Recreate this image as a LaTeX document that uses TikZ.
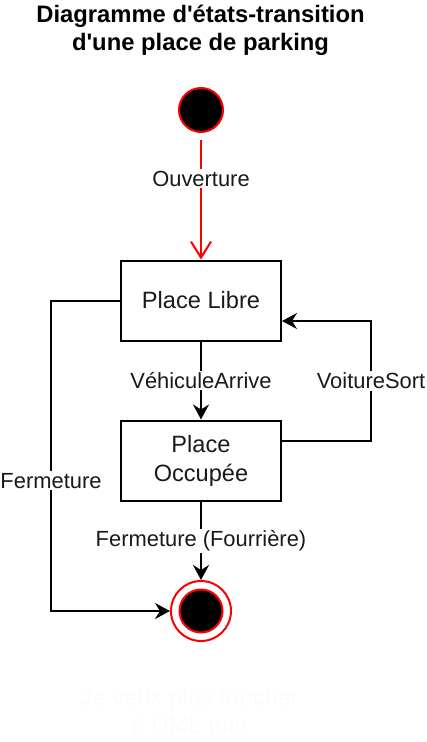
\documentclass[tikz,border=0pt]{standalone}
\usepackage{fontspec}
\setmainfont{Liberation Sans}
\usetikzlibrary{arrows.meta}
\definecolor{ink}{HTML}{1A1A1A}
\definecolor{ghost}{HTML}{FBFBFB}
\tikzset{
  statebox/.style={draw=black, line width=2pt, fill=white, minimum width=160pt, minimum height=80pt, inner sep=2pt, align=center, text=ink, font=\fontsize{23.6}{29}\selectfont},
  lbl/.style={fill=white, text=ink, inner sep=1.5pt, font=\fontsize{21.9}{26}\selectfont},
  flow/.style={line width=2pt, draw=black, -{Stealth[length=15pt, width=16pt, inset=5pt]}},
  openflow/.style={line width=2pt, draw=red, -{Straight Barb[length=16pt, width=20pt]}},
  titletext/.style={anchor=base, text=black, font=\fontsize{23.8}{28}\selectfont\bfseries},
  ghosttext/.style={anchor=base, text=ghost, font=\fontsize{23.8}{28}\selectfont},
}
\begin{document}
\begin{tikzpicture}[x=1pt, y=-1pt]
\useasboundingbox (0,0) rectangle (426,742);
% title
\node[titletext] (t1) at (200.5,22) {Diagramme d\textquotesingle états-transition};
\node[titletext] (t2) at (200.5,50) {d\textquotesingle une place de parking};
% states
\node[circle, draw=red, line width=2pt, fill=black, minimum size=44pt, inner sep=0pt] (init) at (201,110) {};
\node[statebox] (libre) at (201,300.5) {Place Libre};
\node[statebox] (occ) at (201,460.5) {Place\\Occupée};
\node[circle, draw=red, line width=2pt, fill=white, minimum size=60pt, inner sep=0pt] (final) at (201,611) {};
\node[circle, draw=red, line width=2pt, fill=black, minimum size=43pt, inner sep=0pt] (finalin) at (201,611) {};
% transitions
\draw[openflow, shorten <=7pt] (init) -- node[lbl, pos=0.36] {Ouverture} (libre);
\draw[flow] (libre) -- node[lbl] {VéhiculeArrive} (occ);
\coordinate (vs1) at (371,441);
\coordinate (vs2) at (371,321);
\draw[flow] (occ.east |- vs1) -- (vs1) -- node[lbl] {VoitureSort} (vs2) -- (libre.east |- vs2);
\coordinate (f1) at (51,300.5);
\coordinate (f2) at (51,611);
\draw[flow] (libre.west) -- (f1) -- node[lbl, pos=0.58] {Fermeture} (f2) -- (final);
\draw[flow] (occ) -- node[lbl] {Fermeture (Fourrière)} (final);
% faint text
\node[ghosttext] (g1) at (190,705) {Je veux plus toucher};
\node[ghosttext] (g2) at (190,733) {à UML mtn};
\end{tikzpicture}
\end{document}
